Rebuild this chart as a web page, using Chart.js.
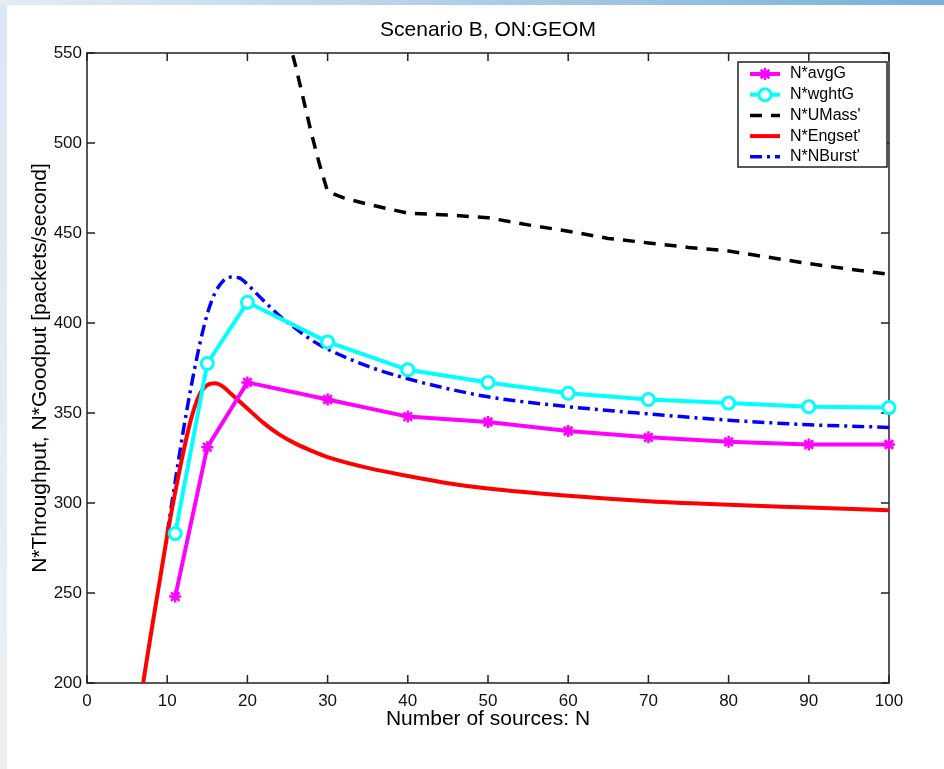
<!DOCTYPE html>
<html>
<head>
<meta charset="utf-8">
<title>Scenario B, ON:GEOM</title>
<script src="https://cdn.jsdelivr.net/npm/chart.js@4.4.1/dist/chart.umd.min.js"></script>
<style>
  html, body { margin: 0; padding: 0; }
  body {
    width: 944px; height: 769px; position: relative; overflow: hidden;
    background: linear-gradient(to bottom, #dae7f4, #edf0f2);
  }
  #topbar {
    position: absolute; left: 0; top: 0; width: 944px; height: 5px;
    background: linear-gradient(to right, #e4edf6, #76b0d8);
  }
  #panel { position: absolute; left: 7px; top: 5px; right: 0; bottom: 0; background: #fff; }
  #plot { position: absolute; left: 0; top: 0; }
</style>
</head>
<body>
<div id="topbar"></div>
<div id="panel"></div>
<canvas id="plot" width="944" height="769"></canvas>
<script>
// simulated series (markers at the simulated N values)
const simN = [11, 15, 20, 30, 40, 50, 60, 70, 80, 90, 100];
const avgG = [248, 331, 367, 357.5, 348, 345, 340, 336.5, 334, 332.5, 332.5];
const wghtG = [283, 377.5, 411.5, 389.5, 374, 367, 361, 357.5, 355.5, 353.5, 353];

// analytic models
const umassN = [25, 26, 27, 28, 29, 30, 32, 35, 40, 45, 50, 55, 60, 65, 70, 75, 80, 85, 90, 95, 100];
const umass = [560, 543, 524, 505, 488, 473, 469.5, 466, 461, 460, 458.5, 454.5, 451, 447, 444.5, 442, 440, 436.5, 433, 430, 427];

const engsetN = [7, 8, 9, 10, 11, 12, 13, 14, 15, 16, 17, 18, 19, 20, 22, 24, 26, 28, 30, 35, 40, 45, 50, 60, 70, 80, 90, 100];
const engset = [200, 228, 255, 282, 306, 328, 347, 360, 365.5, 366.5, 364.5, 360.5, 356.5, 352.5, 344.5, 338, 333, 329, 325.5, 319.5, 315, 311, 308, 304, 301, 299, 297.5, 296];

const nburstN = [10, 11, 12, 13, 14, 15, 16, 17, 18, 19, 20, 21, 22, 24, 26, 28, 30, 35, 40, 45, 50, 60, 70, 80, 90, 100];
const nburst = [283, 312, 340, 365, 387, 405, 417, 423.5, 425.5, 425, 421.5, 417, 412.5, 404, 397, 390.5, 385.5, 376, 369, 363.5, 359, 353.5, 349.5, 346, 343.5, 342];

const xTicks = [0, 10, 20, 30, 40, 50, 60, 70, 80, 90, 100];
const yTicks = [200, 250, 300, 350, 400, 450, 500, 550];

const FONT = '"Liberation Sans", Arial, Helvetica, sans-serif';
const TITLE = 'Scenario B, ON:GEOM';

function pairs(xs, ys) {
  return xs.map((x, i) => ({ x, y: ys[i] }));
}

// title centred over the axes, not the whole canvas
const axesTitle = {
  id: 'axesTitle',
  afterDraw(chart) {
    const { ctx, chartArea: a } = chart;
    ctx.save();
    ctx.fillStyle = '#000';
    ctx.font = '21px ' + FONT;
    ctx.textAlign = 'center';
    ctx.textBaseline = 'middle';
    ctx.fillText(TITLE, (a.left + a.right) / 2, a.top - 23);
    ctx.restore();
  }
};

// axes box with inward ticks on all four sides
const frame = {
  id: 'frame',
  beforeDatasetsDraw(chart) {
    const { ctx, chartArea: a, scales: { x, y } } = chart;
    const len = 8;
    ctx.save();
    ctx.strokeStyle = '#222';
    ctx.lineWidth = 1.5;
    ctx.strokeRect(a.left, a.top, a.right - a.left, a.bottom - a.top);
    ctx.beginPath();
    xTicks.forEach(v => {
      const px = x.getPixelForValue(v);
      ctx.moveTo(px, a.bottom); ctx.lineTo(px, a.bottom - len);
      ctx.moveTo(px, a.top); ctx.lineTo(px, a.top + len);
    });
    yTicks.forEach(v => {
      const py = y.getPixelForValue(v);
      ctx.moveTo(a.left, py); ctx.lineTo(a.left + len, py);
      ctx.moveTo(a.right, py); ctx.lineTo(a.right - len, py);
    });
    ctx.stroke();
    ctx.restore();
  }
};

// legend box in the upper right corner of the axes
const boxLegend = {
  id: 'boxLegend',
  afterDraw(chart) {
    const { ctx, chartArea: a } = chart;
    const left = a.right - 151, top = a.top + 9, w = 149, h = 105;
    ctx.save();
    ctx.fillStyle = '#fff';
    ctx.fillRect(left, top, w, h);
    ctx.strokeStyle = '#222';
    ctx.lineWidth = 1.5;
    ctx.strokeRect(left, top, w, h);
    chart.data.datasets.forEach((ds, i) => {
      const yy = top + 12 + i * 20.7;
      ctx.strokeStyle = ds.borderColor;
      ctx.lineWidth = ds.borderWidth;
      ctx.setLineDash(ds.borderDash || []);
      ctx.beginPath();
      ctx.moveTo(left + 12, yy);
      ctx.lineTo(left + 42, yy);
      ctx.stroke();
      ctx.setLineDash([]);
      if (ds.pointRadius > 0) {
        ctx.fillStyle = ds.pointBackgroundColor;
        ctx.lineWidth = ds.pointBorderWidth;
        Chart.helpers.drawPoint(ctx, {
          pointStyle: ds.pointStyle, radius: ds.pointRadius,
          borderWidth: ds.pointBorderWidth, rotation: 0
        }, left + 27, yy);
      }
      ctx.fillStyle = '#000';
      ctx.font = '16px ' + FONT;
      ctx.textBaseline = 'middle';
      ctx.fillText(ds.label, left + 52, yy);
    });
    ctx.restore();
  }
};

new Chart(document.getElementById('plot'), {
  type: 'line',
  data: {
    datasets: [
      {
        label: 'N*avgG',
        data: pairs(simN, avgG),
        borderColor: '#ff00ff',
        borderWidth: 4,
        pointStyle: 'star',
        pointRadius: 6,
        pointBorderWidth: 2.5,
        pointBorderColor: '#ff00ff',
        pointBackgroundColor: '#ff00ff',
        clip: 8
      },
      {
        label: 'N*wghtG',
        data: pairs(simN, wghtG),
        borderColor: '#00ffff',
        borderWidth: 4,
        pointStyle: 'circle',
        pointRadius: 6,
        pointBorderWidth: 3,
        pointBorderColor: '#00ffff',
        pointBackgroundColor: '#ffffff',
        clip: 8
      },
      {
        label: "N*UMass'",
        data: pairs(umassN, umass),
        borderColor: '#000000',
        borderWidth: 3.5,
        borderDash: [12, 9],
        pointRadius: 0
      },
      {
        label: "N*Engset'",
        data: pairs(engsetN, engset),
        borderColor: '#ff0000',
        borderWidth: 4,
        cubicInterpolationMode: 'monotone',
        pointRadius: 0
      },
      {
        label: "N*NBurst'",
        data: pairs(nburstN, nburst),
        borderColor: '#0000ff',
        borderWidth: 3.5,
        borderDash: [12, 5, 3, 5],
        cubicInterpolationMode: 'monotone',
        pointRadius: 0
      }
    ]
  },
  options: {
    responsive: false,
    animation: false,
    events: [],
    layout: { padding: { left: 0, right: 55, top: 53, bottom: 0 } },
    plugins: {
      legend: { display: false },
      tooltip: { enabled: false },
      title: { display: false }
    },
    scales: {
      x: {
        type: 'linear',
        min: 0,
        max: 100,
        afterFit(scale) { scale.height = 86; },
        grid: { display: false, drawTicks: false },
        border: { display: false },
        ticks: {
          stepSize: 10,
          padding: 8,
          color: '#111',
          font: { family: FONT, size: 17 }
        },
        title: {
          display: true,
          text: 'Number of sources: N',
          color: '#000',
          font: { family: FONT, size: 21 },
          padding: { top: 0, bottom: 37 }
        }
      },
      y: {
        type: 'linear',
        min: 200,
        max: 550,
        afterFit(scale) { scale.width = 87; },
        grid: { display: false, drawTicks: false },
        border: { display: false },
        ticks: {
          stepSize: 50,
          padding: 5,
          color: '#111',
          font: { family: FONT, size: 17 }
        },
        title: {
          display: true,
          text: 'N*Throughput, N*Goodput [packets/second]',
          color: '#000',
          font: { family: FONT, size: 21 },
          padding: { top: 28, bottom: 0 }
        }
      }
    }
  },
  plugins: [frame, boxLegend, axesTitle]
});
</script>
</body>
</html>
